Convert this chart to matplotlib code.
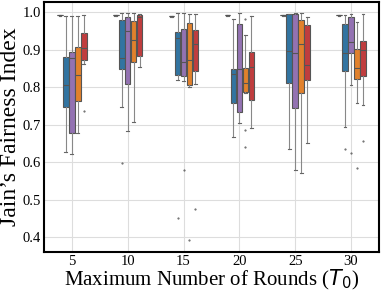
import matplotlib
matplotlib.use("Agg")
import matplotlib.pyplot as plt

plt.rcParams['font.family'] = 'serif'
plt.rcParams['font.serif'] = ['Liberation Serif', 'DejaVu Serif']
plt.rcParams['mathtext.fontset'] = 'dejavusans'

rounds = ['5', '10', '15', '20', '25', '30']

# hue 0 collapses near the top
base_med = [0.993, 0.992, 0.990, 0.992, 0.993, 0.993]

blue_hi = [0.990, 0.997, 0.998, 0.983, 0.995, 0.993]
blue_q3 = [0.881, 0.980, 0.947, 0.848, 0.994, 0.968]
blue_med = [0.805, 0.877, 0.931, 0.834, 0.897, 0.891]
blue_q1 = [0.747, 0.848, 0.831, 0.757, 0.810, 0.844]
blue_lo = [0.627, 0.747, 0.820, 0.666, 0.635, 0.694]
blue_fl = [[], [0.597], [0.450], [], [], [0.636]]

purple_hi = [0.990, 0.997, 0.997, 0.999, 0.999, 0.996]
purple_q3 = [0.895, 0.987, 0.954, 0.968, 0.994, 0.988]
purple_med = [0.877, 0.950, 0.867, 0.848, 0.892, 0.921]
purple_q1 = [0.677, 0.808, 0.829, 0.733, 0.743, 0.890]
purple_lo = [0.622, 0.683, 0.816, 0.704, 0.579, 0.805]
purple_fl = [[], [], [0.579], [], [], [0.623]]

orange_hi = [0.990, 0.997, 0.996, 0.940, 0.997, 0.975]
orange_q3 = [0.906, 0.977, 0.972, 0.850, 0.980, 0.903]
orange_med = [0.833, 0.925, 0.873, 0.812, 0.915, 0.851]
orange_q1 = [0.763, 0.866, 0.805, 0.786, 0.783, 0.821]
orange_lo = [0.678, 0.706, 0.800, 0.784, 0.572, 0.757]
orange_fl = [[], [], [0.392], [0.981, 0.686, 0.641], [], [0.583]]

red_hi = [0.993, 0.996, 0.994, 0.990, 0.986, 0.994]
red_q3 = [0.945, 0.992, 0.953, 0.895, 0.965, 0.922]
red_med = [0.904, 0.986, 0.914, 0.853, 0.859, 0.899]
red_q1 = [0.872, 0.882, 0.843, 0.766, 0.818, 0.829]
red_lo = [0.861, 0.853, 0.809, 0.691, 0.652, 0.752]
red_fl = [[0.737], [], [0.475], [], [], [0.657]]


def make_stats(lo, q1, med, q3, hi, fl):
    return [dict(whislo=lo[i], q1=q1[i], med=med[i], q3=q3[i], whishi=hi[i], fliers=fl[i])
            for i in range(len(med))]


series = [
    ('#8c8c8c', make_stats([m - 0.003 for m in base_med], base_med, base_med,
                           base_med, base_med, [[]] * 6)),
    ('#3274a1', make_stats(blue_lo, blue_q1, blue_med, blue_q3, blue_hi, blue_fl)),
    ('#9372b2', make_stats(purple_lo, purple_q1, purple_med, purple_q3, purple_hi, purple_fl)),
    ('#e1812c', make_stats(orange_lo, orange_q1, orange_med, orange_q3, orange_hi, orange_fl)),
    ('#c03d3e', make_stats(red_lo, red_q1, red_med, red_q3, red_hi, red_fl)),
]

fig = plt.figure(figsize=(3.82, 2.91), dpi=100)
ax = fig.add_axes([0.115, 0.134, 0.877, 0.859])

line_c = '#555555'
step = 0.107
for k, (color, stats) in enumerate(series):
    pos = [i + (k - 2) * step for i in range(len(rounds))]
    ax.bxp(stats, positions=pos, widths=0.1, patch_artist=True, manage_ticks=False,
           boxprops=dict(facecolor=color, edgecolor=line_c, linewidth=0.8),
           medianprops=dict(color=line_c, linewidth=0.8),
           whiskerprops=dict(color='#888888', linewidth=0.8),
           capprops=dict(color='#666666', linewidth=0.8),
           flierprops=dict(marker='.', markersize=1.0, markerfacecolor=line_c,
                           markeredgecolor=line_c, linestyle='none'),
           zorder=3)

ax.set_xlim(-0.5, 5.5)
ax.set_ylim(0.36, 1.027)
ax.set_xticks(range(len(rounds)))
ax.set_xticklabels(rounds)
ax.set_yticks([0.4, 0.5, 0.6, 0.7, 0.8, 0.9, 1.0])
ax.set_yticklabels(['0.4', '0.5', '0.6', '0.7', '0.8', '0.9', '1.0'])
ax.tick_params(length=0, labelsize=10.5, pad=2)
ax.grid(True, color='#dddddd', linewidth=0.8, zorder=0)
ax.set_axisbelow(True)
for sp in ax.spines.values():
    sp.set_color('black')
    sp.set_linewidth(1.5)

ax.set_xlabel('Maximum Number of Rounds ($T_0$)', fontsize=15, labelpad=0)
ax.set_ylabel("Jain’s Fairness Index", fontsize=17, labelpad=1)

fig.savefig('out.png', dpi=100)
